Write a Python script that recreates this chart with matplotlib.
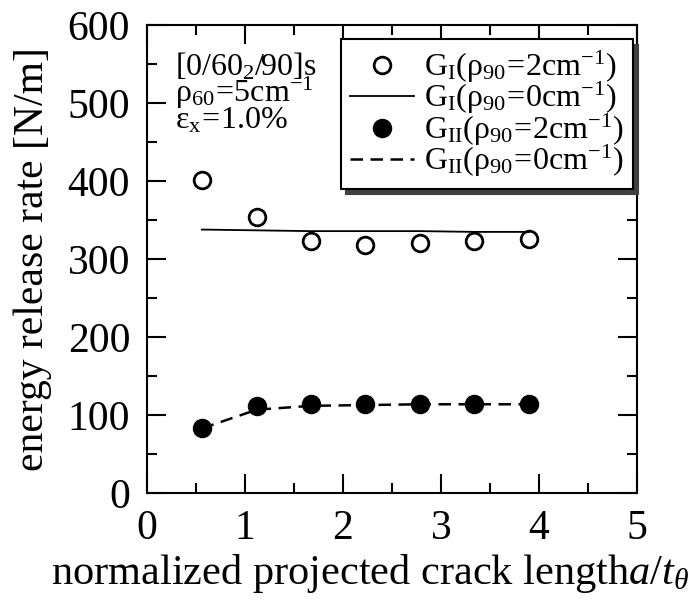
import matplotlib
matplotlib.use("Agg")
import matplotlib.pyplot as plt
from matplotlib.ticker import MultipleLocator

plt.rcParams["font.family"] = "Liberation Serif"
plt.rcParams["mathtext.fontset"] = "custom"
plt.rcParams["mathtext.rm"] = "Liberation Serif"
plt.rcParams["mathtext.it"] = "Liberation Serif:italic"

# crack length a/t
x = [0.56, 1.12, 1.67, 2.23, 2.79, 3.34, 3.90]
g1_rho2 = [401, 354, 323, 318, 321, 323, 326]
g1_rho0 = [338, 337, 336, 336, 336, 335, 335]
g2_rho2 = [84, 112, 114, 114, 114, 115, 115]
g2_rho0 = [83, 107, 112, 113, 114, 114, 114]

fig = plt.figure(figsize=(6.96, 6.0), dpi=100)
ax = fig.add_axes([0.211, 0.178, 0.704, 0.78])

ax.plot(x, g1_rho2, "o", mfc="white", mec="black", mew=2, ms=12,
        label=r"$\mathrm{G_I(\rho_{90}\!=\!2cm^{-1})}$")
ax.plot(x, g1_rho0, "-", color="black", lw=1.3,
        label=r"$\mathrm{G_I(\rho_{90}\!=\!0cm^{-1})}$")
ax.plot(x, g2_rho2, "o", mfc="black", mec="black", ms=13,
        label=r"$\mathrm{G_{II}(\rho_{90}\!=\!2cm^{-1})}$")
ax.plot(x, g2_rho0, "--", color="black", lw=1.8, dashes=(5, 3),
        label=r"$\mathrm{G_{II}(\rho_{90}\!=\!0cm^{-1})}$")

ax.set_xlim(0, 5)
ax.set_ylim(0, 600)
ax.xaxis.set_major_locator(MultipleLocator(1))
ax.xaxis.set_minor_locator(MultipleLocator(0.5))
ax.yaxis.set_major_locator(MultipleLocator(100))
ax.yaxis.set_minor_locator(MultipleLocator(50))
ax.tick_params(which="both", direction="in", top=True, right=True,
               width=1.5, labelsize=30)
ax.tick_params(which="major", length=14, pad=12)
ax.tick_params(which="minor", length=7)
for s in ax.spines.values():
    s.set_linewidth(1.5)

ax.set_ylabel("energy release rate [N/m]", fontsize=30, labelpad=11)
ax.set_xlabel(r"normalized projected crack length$\mathit{a/t_\theta}$",
              fontsize=30.5, ha="right", va="center")
ax.xaxis.set_label_coords(1.108, -0.172)

ax.text(0.057, 0.893, r"$\mathrm{[0/60_2/90]s}$", transform=ax.transAxes,
        fontsize=23, va="baseline", ha="left")
ax.text(0.057, 0.835, r"$\mathrm{\rho_{60}\!=\!5cm^{-1}}$",
        transform=ax.transAxes, fontsize=23, va="baseline", ha="left")
ax.text(0.057, 0.780, r"$\mathrm{\epsilon_x\!=\!1.0\%}$",
        transform=ax.transAxes, fontsize=23, va="baseline", ha="left")

leg = ax.legend(loc="upper right", bbox_to_anchor=(0.992, 0.97),
                fontsize=23, frameon=True, fancybox=False,
                shadow={"ox": 4, "oy": -4, "color": "0.25", "alpha": 1},
                edgecolor="black", framealpha=1, handlelength=2.0,
                borderpad=0.3, labelspacing=-0.15, handletextpad=0.3,
                borderaxespad=0)
leg.get_frame().set_linewidth(1.5)

fig.savefig("out.png", dpi=100)
